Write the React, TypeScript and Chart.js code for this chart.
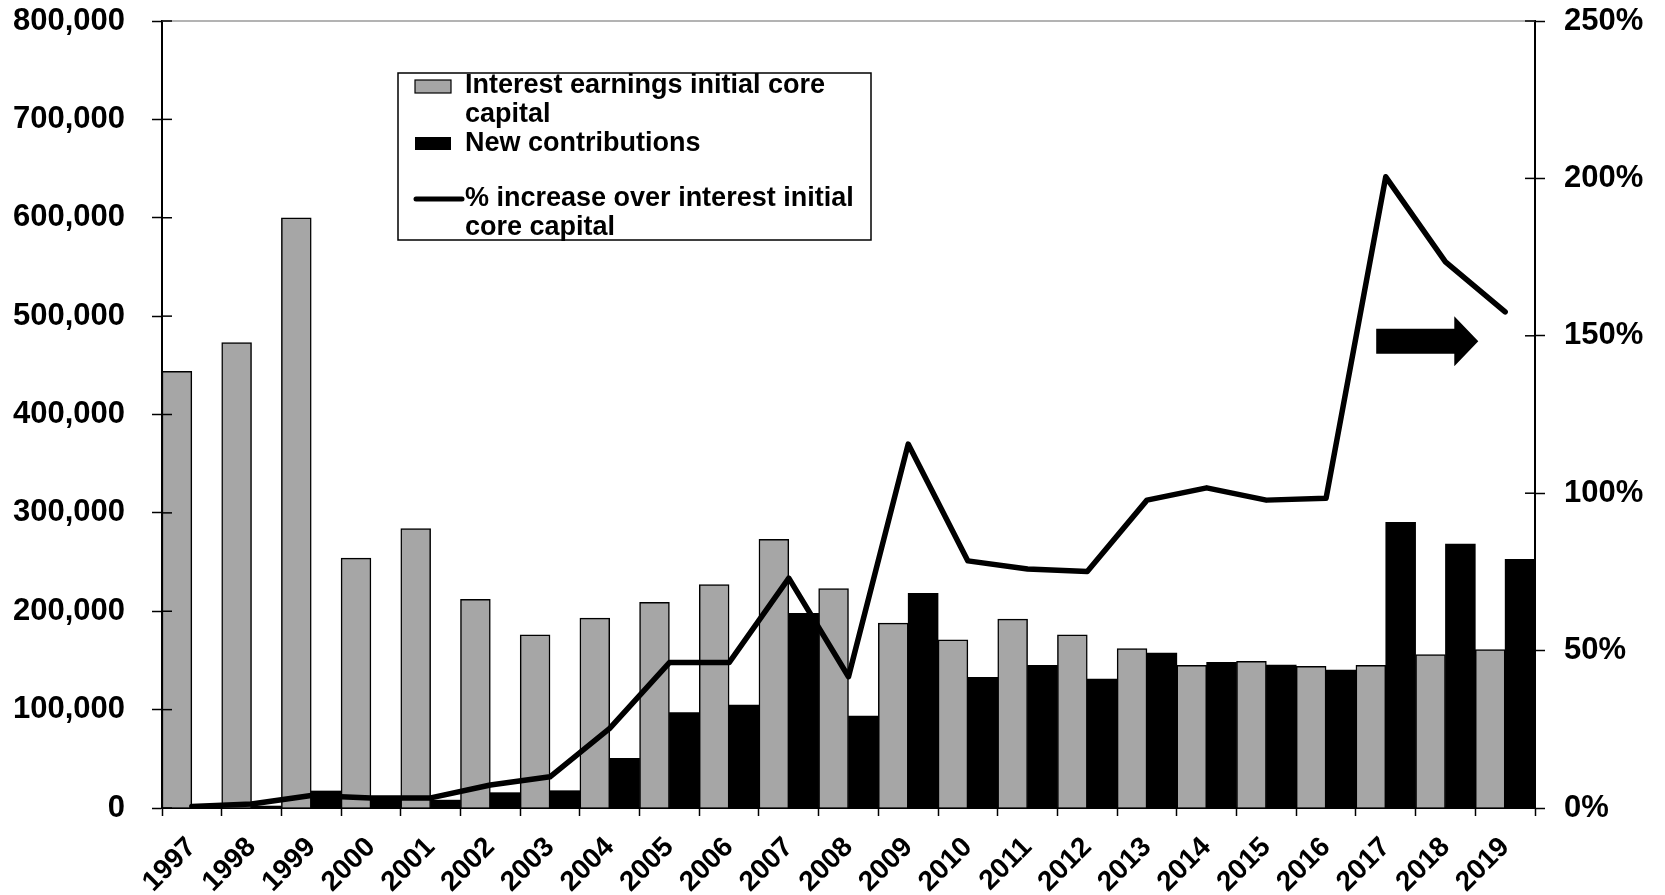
import React, { useEffect, useRef } from "react";
import { Chart, registerables } from "chart.js";

Chart.register(...registerables);

const years = [
  "1997", "1998", "1999", "2000", "2001", "2002", "2003", "2004", "2005", "2006", "2007", "2008",
  "2009", "2010", "2011", "2012", "2013", "2014", "2015", "2016", "2017", "2018", "2019",
];

const interestEarnings = [
  444000, 473000, 600000, 254000, 284000, 212000, 176000, 193000, 209000, 227000, 273000, 223000,
  188000, 171000, 192000, 176000, 162000, 145000, 149000, 144000, 145000, 156000, 161000,
];

const newContributions = [
  0, 2000, 17300, 11000, 8000, 15600, 17600, 50500, 97000, 104700, 197800, 93500,
  218200, 132800, 145000, 131100, 157500, 148000, 145300, 140200, 290300, 268300, 252700,
];

const pctIncrease = [
  0.5, 1.3, 4.0, 3.2, 3.2, 7.3, 9.9, 25.3, 46.2, 46.2, 73.0, 41.7,
  115.6, 78.5, 75.9, 75.1, 97.8, 101.7, 97.8, 98.4, 200.5, 173.5, 157.6,
];

const seriesLabels = [
  "Interest earnings initial core capital",
  "New contributions",
  "% increase over interest initial core capital",
];
const legendLines = [
  ["Interest earnings initial core", "capital"],
  ["New contributions"],
  ["% increase over interest initial", "core capital"],
];

// arrow annotation in data units (category index, percent)
const arrowFromIndex = 19.84;
const arrowToIndex = 21.55;
const arrowPct = 148.3;

const FONT = '"Liberation Sans", Arial, Helvetica, sans-serif';
const GRAY = "#a6a6a6";

const decorPlugin = {
  id: "decor",
  afterDraw(chart: any) {
    const { ctx, chartArea: ca, scales } = chart;
    ctx.save();
    // top border of plot
    ctx.strokeStyle = "#9a9a9a";
    ctx.lineWidth = 1.5;
    ctx.beginPath();
    ctx.moveTo(ca.left, ca.top);
    ctx.lineTo(ca.right, ca.top);
    ctx.stroke();

    // inner halves of crossing ticks
    ctx.strokeStyle = "#000";
    ctx.lineWidth = 1.5;
    scales.y.ticks.forEach((_t: any, i: number) => {
      const py = scales.y.getPixelForTick(i);
      ctx.beginPath();
      ctx.moveTo(ca.left, py);
      ctx.lineTo(ca.left + 10, py);
      ctx.stroke();
    });
    scales.y1.ticks.forEach((_t: any, i: number) => {
      const py = scales.y1.getPixelForTick(i);
      ctx.beginPath();
      ctx.moveTo(ca.right - 10, py);
      ctx.lineTo(ca.right, py);
      ctx.stroke();
    });

    // arrow
    const x0 = scales.x.getPixelForValue(arrowFromIndex);
    const x2 = scales.x.getPixelForValue(arrowToIndex);
    const yc = scales.y1.getPixelForValue(arrowPct);
    const headLen = 24;
    const x1 = x2 - headLen;
    ctx.fillStyle = "#000";
    ctx.beginPath();
    ctx.moveTo(x0, yc - 12.5);
    ctx.lineTo(x1, yc - 12.5);
    ctx.lineTo(x1, yc - 25);
    ctx.lineTo(x2, yc);
    ctx.lineTo(x1, yc + 25);
    ctx.lineTo(x1, yc + 12.5);
    ctx.lineTo(x0, yc + 12.5);
    ctx.closePath();
    ctx.fill();

    // legend box
    const lx = 398, ly = 73, lw = 473, lh = 167;
    ctx.fillStyle = "#fff";
    ctx.fillRect(lx, ly, lw, lh);
    ctx.strokeStyle = "#000";
    ctx.lineWidth = 1.5;
    ctx.strokeRect(lx, ly, lw, lh);

    // swatches
    ctx.fillStyle = GRAY;
    ctx.fillRect(415, 80, 36, 13);
    ctx.lineWidth = 1.2;
    ctx.strokeRect(415, 80, 36, 13);
    ctx.fillStyle = "#000";
    ctx.fillRect(415, 137, 36, 13);
    ctx.lineWidth = 5;
    ctx.lineCap = "round";
    ctx.beginPath();
    ctx.moveTo(416, 199);
    ctx.lineTo(462, 199);
    ctx.stroke();

    ctx.font = `bold 27px ${FONT}`;
    ctx.fillStyle = "#000";
    ctx.textBaseline = "middle";
    ctx.textAlign = "left";
    const rows = [
      [86, legendLines[0][0]],
      [115, legendLines[0][1]],
      [143.5, legendLines[1][0]],
      [199, legendLines[2][0]],
      [228, legendLines[2][1]],
    ] as [number, string][];
    rows.forEach(([y, t]) => ctx.fillText(t, 465, y));
    ctx.restore();
  },
};

export default function App() {
  const ref = useRef<HTMLCanvasElement | null>(null);

  useEffect(() => {
    if (!ref.current) return;
    const chart = new Chart(ref.current, {
      type: "bar",
      data: {
        labels: years,
        datasets: [
          {
            type: "line",
            label: seriesLabels[2],
            data: pctIncrease,
            yAxisID: "y1",
            borderColor: "#000",
            borderWidth: 5.5,
            pointRadius: 0,
            tension: 0,
            borderJoinStyle: "round",
            borderCapStyle: "round",
            order: 0,
          } as any,
          {
            type: "bar",
            label: seriesLabels[0],
            data: interestEarnings,
            yAxisID: "y",
            backgroundColor: GRAY,
            borderColor: "#000",
            borderWidth: 1.5,
            barPercentage: 1,
            categoryPercentage: 1,
            order: 1,
          },
          {
            type: "bar",
            label: seriesLabels[1],
            data: newContributions,
            yAxisID: "y",
            backgroundColor: "#000",
            borderColor: "#000",
            borderWidth: 0,
            barPercentage: 1,
            categoryPercentage: 1,
            order: 1,
          },
        ],
      },
      options: {
        animation: false,
        responsive: false,
        maintainAspectRatio: false,
        layout: { padding: { top: 21, left: 0, right: 0, bottom: 0 } },
        plugins: {
          legend: { display: false },
          tooltip: { enabled: false },
        },
        scales: {
          x: {
            offset: true,
            grid: {
              offset: true,
              drawOnChartArea: false,
              drawTicks: true,
              tickLength: 8,
              tickWidth: 1.5,
              tickColor: "#000",
            },
            border: { display: true, color: "#000", width: 2 },
            ticks: {
              color: "#000",
              font: { family: FONT, size: 28, weight: "bold" },
              minRotation: 45,
              maxRotation: 45,
              autoSkip: false,
              padding: 15,
            },
            afterFit: (s: any) => {
              s.height = 87;
              s.paddingLeft = 0;
              s.paddingRight = 0;
            },
          },
          y: {
            position: "left",
            min: 0,
            max: 800000,
            grid: {
              drawOnChartArea: false,
              drawTicks: true,
              tickLength: 10,
              tickWidth: 1.5,
              tickColor: "#000",
            },
            border: { display: true, color: "#000", width: 2 },
            ticks: {
              stepSize: 100000,
              color: "#000",
              padding: 27,
              font: { family: FONT, size: 31, weight: "bold" },
              callback: (v: any) => Number(v).toLocaleString("en-US"),
            },
            afterFit: (s: any) => {
              s.width = 162;
              s.paddingTop = 0;
              s.paddingBottom = 0;
            },
          },
          y1: {
            position: "right",
            min: 0,
            max: 250,
            grid: {
              drawOnChartArea: false,
              drawTicks: true,
              tickLength: 10,
              tickWidth: 1.5,
              tickColor: "#000",
            },
            border: { display: true, color: "#000", width: 2 },
            ticks: {
              stepSize: 50,
              color: "#000",
              padding: 19,
              font: { family: FONT, size: 31, weight: "bold" },
              callback: (v: any) => `${v}%`,
            },
            afterFit: (s: any) => {
              s.width = 130;
              s.paddingTop = 0;
              s.paddingBottom = 0;
            },
          },
        },
      },
      plugins: [decorPlugin],
    });
    return () => chart.destroy();
  }, []);

  return (
    <div style={{ position: "fixed", left: 0, top: 0, width: 1665, height: 895, background: "#fff" }}>
      <canvas ref={ref} width={1665} height={895} style={{ width: 1665, height: 895 }} />
    </div>
  );
}
